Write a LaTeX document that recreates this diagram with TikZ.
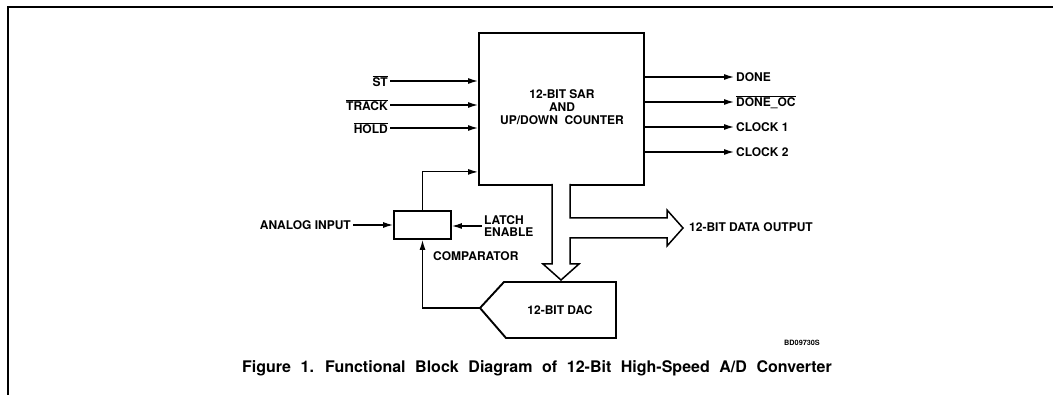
\documentclass[tikz,border=0pt]{standalone}
\usepackage{fontspec}
\setmainfont{TeX Gyre Heros}
\usetikzlibrary{arrows.meta,positioning}

\newcommand\barsig[1]{$\overline{\hbox{#1}}$}

\begin{document}
\begin{tikzpicture}[x=1pt,y=-1pt,
  font=\bfseries\fontsize{12}{14}\selectfont,
  sig/.style={-{Latex[length=10pt,width=6pt]}, line width=1.2pt},
  blk/.style={draw, line width=1.9pt, inner sep=0pt},
  lbl/.style={inner sep=2pt}]

\useasboundingbox (0,0) rectangle (1053,395);
\draw[line width=1.3pt] (8,395) -- (8,7) -- (1053,7);

% counter block
\node[blk, minimum width=165, minimum height=152, anchor=north west] (sar) at (478,32) {};
\node[align=center] (sartext) at (562,107) {12-BIT SAR\\[-1pt]AND\\[-1pt]UP/DOWN~~COUNTER};

% control inputs
\node[lbl, anchor=east] (st)    at (390,81)  {\barsig{ST}};
\node[lbl, anchor=east] (track) at (390,105) {\barsig{TRACK}};
\node[lbl, anchor=east] (hold)  at (390,128) {\barsig{HOLD}};

\foreach \p in {st,track,hold} {
    \draw[sig] (\p.east) -- (sar.west |- \p.east);
}

% outputs
\node[lbl, anchor=west] (done)   at (734,77)  {DONE};
\node[lbl, anchor=west] (doneoc) at (734,102) {\barsig{DONE\_OC}};
\node[lbl, anchor=west] (clka)   at (734,127) {CLOCK 1};
\node[lbl, anchor=west] (clkb)   at (734,152) {CLOCK 2};

\foreach \p in {done,doneoc,clka,clkb} {
    \draw[sig] (sar.east |- \p.west) -- (\p.west);
}

% comparator
\node[blk, minimum width=57, minimum height=28] (comp) at (422.5,225) {};
\node[lbl, anchor=east] (ain) at (353,225) {ANALOG INPUT};
\node[lbl, anchor=west, align=left] (latch) at (482,226) {LATCH\\[-2pt]ENABLE};
\node[lbl, anchor=west] (complbl) at (431,256) {COMPARATOR};

\draw[sig] (ain.east) -- (comp.west);
\draw[sig] (latch.west) -- (comp.east |- latch.west);
\draw[sig] (comp.north) |- ([yshift=14pt]sar.south west);

% converter
\coordinate (dactip) at (480,308);
\draw[line width=1.9pt, line join=miter] (dactip) -- (504,282) -- (616,282) -- (616,338) -- (506,338) -- cycle;
\node (dac) at (560,310) {12-BIT DAC};
\draw[sig] (dactip) -| (comp.south);

% data bus
\draw[line width=1.5pt, fill=white] (552,184) -- (552,264) -- (543,264) -- (561,280) -- (579,264)
    -- (570,264) -- (570,238) -- (667,238) -- (667,246) -- (683,228) -- (667,210) -- (667,218)
    -- (570,218) -- (570,184);
\node[lbl, anchor=west] (dout) at (687,227) {12-BIT DATA OUTPUT};

\node[font=\bfseries\fontsize{7.3}{8}\selectfont] (code) at (802,343) {BD09730S};
\node[font=\bfseries\fontsize{16}{18}\selectfont] (caption) at (537,368)
    {\spaceskip=0.6em\relax Figure 1. Functional Block Diagram of 12-Bit High-Speed A/D Converter};

\end{tikzpicture}
\end{document}
